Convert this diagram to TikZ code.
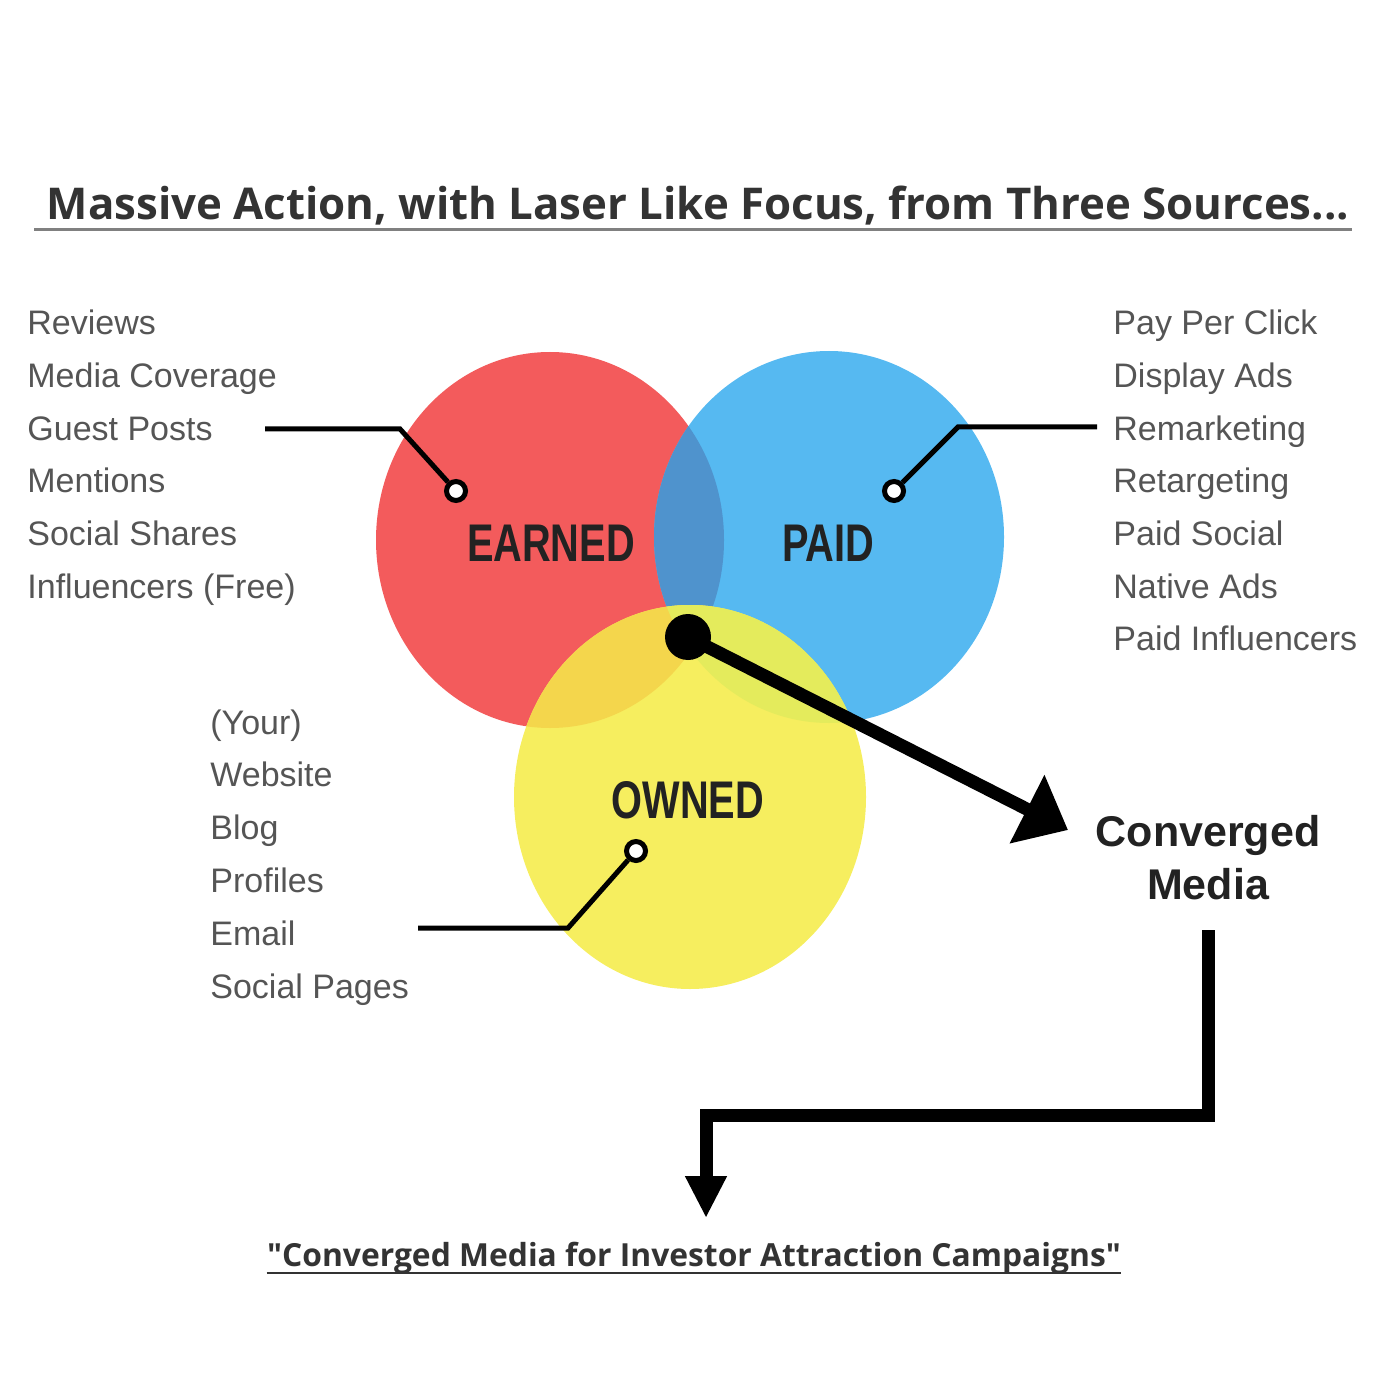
\documentclass[tikz,border=0pt]{standalone}
\usepackage{fontspec}
\setsansfont{Liberation Sans}
\newfontfamily\opensans{Open Sans}
\newfontfamily\narrowsans[FakeStretch=0.75]{Liberation Sans}
\usetikzlibrary{positioning, arrows.meta}
\definecolor{earnedred}{HTML}{F35B5C}
\definecolor{paidblue}{HTML}{56B9F1}
\definecolor{ownedyellow}{HTML}{F6EE5F}
\definecolor{mixrb}{HTML}{4F93CD}
\definecolor{mixry}{HTML}{F4D64C}
\definecolor{mixby}{HTML}{E4EB5C}
\definecolor{listgray}{HTML}{555555}
\definecolor{labelblack}{HTML}{222222}
\definecolor{titlegray}{HTML}{333333}

\begin{document}
\begin{tikzpicture}[font=\sffamily, x=0.5pt, y=-0.5pt]
\tikzstyle{item}=[%
anchor=base west, inner sep=0,
text=listgray, font=\sffamily\fontsize{17pt}{20pt}\selectfont
]
\tikzstyle{venn}=[text=labelblack, font=\narrowsans\bfseries\fontsize{26.5pt}{30pt}\selectfont]
\tikzstyle{heading}=[anchor=base, inner sep=0, text=titlegray]
\tikzstyle{lead}=[line width=2.5pt]
\tikzstyle{pin}=[circle, draw, fill=white, line width=2.5pt, minimum size=9.5pt, inner sep=0]
\tikzstyle{heavy}=[line width=6.5pt]
\useasboundingbox (0,0) rectangle (1400,1400);
   % three sources
   \fill[earnedred] (550,540) ellipse [x radius=87pt, y radius=94pt];
   \fill[paidblue] (829,537) ellipse [x radius=87.5pt, y radius=93pt];
   \begin{scope}
      \clip (550,540) ellipse [x radius=87pt, y radius=94pt];
      \fill[mixrb] (829,537) ellipse [x radius=87.5pt, y radius=93pt];
   \end{scope}
   \fill[ownedyellow] (690,797) ellipse [x radius=88pt, y radius=96pt];
   \begin{scope}
      \clip (690,797) ellipse [x radius=88pt, y radius=96pt];
      \fill[mixry] (550,540) ellipse [x radius=87pt, y radius=94pt];
      \fill[mixby] (829,537) ellipse [x radius=87.5pt, y radius=93pt];
   \end{scope}
   \node[venn] (earned) at (551,543) {EARNED};
   \node[venn] (paid) at (828,543) {PAID};
   \node[venn] (owned) at (688,800) {OWNED};

   \node[heading, font=\opensans\bfseries\fontsize{21.9pt}{26pt}\selectfont] (title) at (698,220) {Massive Action, with Laser Like Focus, from Three Sources...};
   \draw[gray, line width=1.5pt] ([xshift=-6pt, yshift=-5pt]title.base west) -- ([xshift=1pt, yshift=-5pt]title.base east);

   \node[item] (reviews) at (27,335) {Reviews};
   \node[item] (coverage) at ([yshift=-26.3pt]reviews.base west) {Media Coverage};
   \node[item] (guest) at ([yshift=-26.3pt]coverage.base west) {Guest Posts};
   \node[item] (mentions) at ([yshift=-26.3pt]guest.base west) {Mentions};
   \node[item] (shares) at ([yshift=-26.3pt]mentions.base west) {Social Shares};
   \node[item] (free) at ([yshift=-26.3pt]shares.base west) {Influencers (Free)};

   \node[item] (ppc) at (1113,335) {Pay Per Click};
   \node[item] (display) at ([yshift=-26.3pt]ppc.base west) {Display Ads};
   \node[item] (remarketing) at ([yshift=-26.3pt]display.base west) {Remarketing};
   \node[item] (retargeting) at ([yshift=-26.3pt]remarketing.base west) {Retargeting};
   \node[item] (paidsocial) at ([yshift=-26.3pt]retargeting.base west) {Paid Social};
   \node[item] (native) at ([yshift=-26.3pt]paidsocial.base west) {Native Ads};
   \node[item] (paidinf) at ([yshift=-26.3pt]native.base west) {Paid Influencers};

   \node[item] (your) at (210,734) {(Your)};
   \node[item] (website) at ([yshift=-26.4pt]your.base west) {Website};
   \node[item] (blog) at ([yshift=-26.4pt]website.base west) {Blog};
   \node[item] (profiles) at ([yshift=-26.4pt]blog.base west) {Profiles};
   \node[item] (email) at ([yshift=-26.4pt]profiles.base west) {Email};
   \node[item] (pages) at ([yshift=-26.4pt]email.base west) {Social Pages};

   % leader lines
   \coordinate (estart) at (265,429);
   \coordinate (ekink) at (400,429);
   \coordinate (pstart) at (1097,427);
   \coordinate (pkink) at (958,427);
   \coordinate (ostart) at (418,928);
   \coordinate (okink) at (568,928);
   \node[pin] (epin) at (456,491) {};
   \node[pin] (ppin) at (894,491) {};
   \node[pin] (opin) at (636,851) {};
   \draw[lead] (estart) -- (ekink) -- (epin);
   \draw[lead] (pstart) -- (pkink) -- (ppin);
   \draw[lead] (ostart) -- (okink) -- (opin);

   % convergence
   \node[text=labelblack, align=center, font=\sffamily\bfseries\fontsize{21.5pt}{26.5pt}\selectfont] (conv) at (1208,858) {Converged\\Media};
   \node[heading, font=\opensans\bfseries\fontsize{15.9pt}{18pt}\selectfont] (campaign) at (694,1266) {"Converged Media for Investor Attraction Campaigns"};
   \draw[titlegray, line width=1.2pt] ([yshift=-3.5pt]campaign.base west) -- ([yshift=-3.5pt]campaign.base east);
   \coordinate (convin) at (1068,830);
   \coordinate (convout) at (1208,930);
   \coordinate (camptop) at (706,1218);
   \node[circle, fill=black, minimum size=23pt, inner sep=0] (hub) at (688,637) {};
   \draw[heavy, -{Triangle[length=23pt, width=37pt]}] (hub.center) -- (convin);
   \draw[heavy, -{Triangle[length=21pt, width=19.5pt]}] (convout) -- ++(0,185) -| (camptop);
\end{tikzpicture}
\end{document}
